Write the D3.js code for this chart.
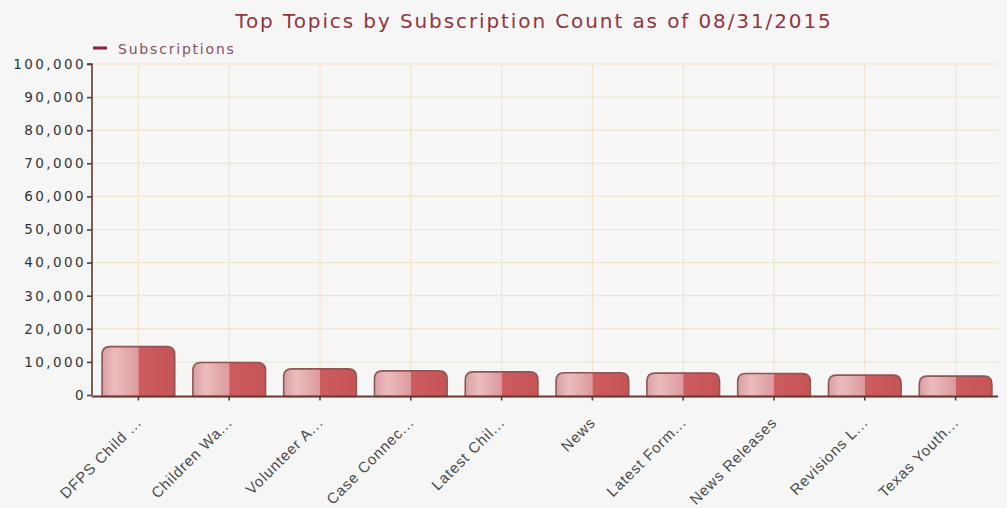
<!DOCTYPE html>
<html>
<head>
<meta charset="utf-8">
<script src="https://cdn.jsdelivr.net/npm/d3@7"></script>
<style>
  html, body { margin: 0; padding: 0; background: #f6f6f6; }
  svg { display: block; }
</style>
</head>
<body>
<svg id="chart" width="1007" height="508"></svg>
<script>
// Topics and their subscription counts
const topics = [
  "DFPS Child ...", "Children Wa...", "Volunteer A...", "Case Connec...", "Latest Chil...",
  "News", "Latest Form...", "News Releases", "Revisions L...", "Texas Youth..."
];
const subscriptions = [14600, 9800, 7900, 7300, 7000, 6700, 6600, 6500, 6000, 5700];
const yTicks = [0, 10000, 20000, 30000, 40000, 50000, 60000, 70000, 80000, 90000, 100000];
const titleText = "Top Topics by Subscription Count as of 08/31/2015";
const seriesName = "Subscriptions";

const svg = d3.select("#chart");
const W = 1007, H = 508;

const x = d3.scaleBand().domain(topics).range([93, 1001]).paddingInner(0.2).paddingOuter(0.1);
const y = d3.scaleLinear().domain([0, 100000]).range([395, 64]);
const fmt = d3.format(",");

// background
svg.append("rect").attr("width", W).attr("height", H).attr("fill", "#f6f6f6");

// gradients for the two-tone bars
const defs = svg.append("defs");
const lg = defs.append("linearGradient").attr("id", "barLeft").attr("x1", 0).attr("x2", 1).attr("y1", 0).attr("y2", 0);
lg.append("stop").attr("offset", "0%").attr("stop-color", "#d99ea2");
lg.append("stop").attr("offset", "35%").attr("stop-color", "#ebbcbe");
lg.append("stop").attr("offset", "100%").attr("stop-color", "#dc9a9e");
const rg = defs.append("linearGradient").attr("id", "barRight").attr("x1", 0).attr("x2", 1).attr("y1", 0).attr("y2", 0);
rg.append("stop").attr("offset", "0%").attr("stop-color", "#cd5c5f");
rg.append("stop").attr("offset", "100%").attr("stop-color", "#c55457");
defs.append("filter").attr("id", "soft").append("feGaussianBlur").attr("stdDeviation", 0.6);

// horizontal gridlines
svg.append("g").selectAll("line").data(yTicks.slice(1)).join("line")
  .attr("x1", 93).attr("x2", 998)
  .attr("y1", d => y(d)).attr("y2", d => y(d))
  .attr("stroke", "#f1e3c4").attr("stroke-width", 1);

// vertical gridlines at each category
svg.append("g").selectAll("line").data(topics).join("line")
  .attr("x1", d => x(d) + x.bandwidth() / 2).attr("x2", d => x(d) + x.bandwidth() / 2)
  .attr("y1", y(100000)).attr("y2", y(0))
  .attr("stroke", "#f1e3c4").attr("stroke-width", 1);

// bars: rounded top, light left half, darker right half
function barPath(x0, w, yTop, yBot, r) {
  return `M${x0},${yBot}V${yTop + r}Q${x0},${yTop} ${x0 + r},${yTop}H${x0 + w - r}Q${x0 + w},${yTop} ${x0 + w},${yTop + r}V${yBot}Z`;
}
const bars = svg.append("g").attr("filter", "url(#soft)");
topics.forEach((t, i) => {
  const x0 = x(t), w = x.bandwidth(), yTop = y(subscriptions[i]), yBot = y(0) + 1.5;
  const clipId = "clip" + i;
  defs.append("clipPath").attr("id", clipId).append("path").attr("d", barPath(x0, w, yTop, yBot, 8));
  const g = bars.append("g").attr("clip-path", `url(#${clipId})`);
  g.append("rect").attr("x", x0).attr("y", yTop).attr("width", w / 2).attr("height", yBot - yTop).attr("fill", "url(#barLeft)");
  g.append("rect").attr("x", x0 + w / 2).attr("y", yTop).attr("width", w / 2).attr("height", yBot - yTop).attr("fill", "url(#barRight)");
  bars.append("path").attr("d", barPath(x0, w, yTop, yBot, 8))
    .attr("fill", "none").attr("stroke", "#8e5555").attr("stroke-width", 1.6);
});

// y axis
const yAxis = svg.append("g").attr("transform", "translate(92,0)")
  .call(d3.axisLeft(y).tickValues(yTicks).tickFormat(fmt).tickSize(5).tickPadding(1));
yAxis.select(".domain").attr("stroke", "#5a3c34").attr("stroke-width", 1.6).attr("d", `M-5,${y(100000)}H0V${y(0)}`);
yAxis.selectAll(".tick line").attr("stroke", "#5a3c34").attr("stroke-width", 1.6);
yAxis.selectAll(".tick text")
  .attr("fill", "#333").style("font-family", "'DejaVu Sans', Verdana, sans-serif")
  .style("font-size", "13.5px").style("letter-spacing", "2.4px");

// x axis
const xAxis = svg.append("g").attr("transform", `translate(0,${y(0) + 1.5})`)
  .call(d3.axisBottom(x).tickSize(4).tickSizeOuter(0));
xAxis.select(".domain").attr("stroke", "#6b3a2e").attr("stroke-width", 2.2).attr("d", "M92,0H998");
xAxis.selectAll(".tick line").attr("stroke", "#5a3c34").attr("stroke-width", 1.6);
xAxis.selectAll(".tick text")
  .attr("text-anchor", "end")
  .attr("x", 0).attr("y", 0).attr("dy", 0)
  .attr("transform", "translate(4,27) rotate(-45)")
  .attr("fill", "#4a4a4a")
  .style("font-family", "'Liberation Sans', Arial, sans-serif")
  .style("font-size", "15px").style("letter-spacing", "0.9px");

// title
svg.append("text").attr("x", 534).attr("y", 28).attr("text-anchor", "middle")
  .attr("fill", "#93343f").style("font-family", "'DejaVu Sans', Verdana, sans-serif")
  .style("font-size", "20px").style("letter-spacing", "1.9px").text(titleText);

// legend
svg.append("line").attr("x1", 93).attr("x2", 107).attr("y1", 48).attr("y2", 48)
  .attr("stroke", "#8b2036").attr("stroke-width", 3);
svg.append("text").attr("x", 118).attr("y", 54)
  .attr("fill", "#86505e").style("font-family", "'DejaVu Sans', Verdana, sans-serif")
  .style("font-size", "14px").style("letter-spacing", "1.8px").text(seriesName);
</script>
</body>
</html>
